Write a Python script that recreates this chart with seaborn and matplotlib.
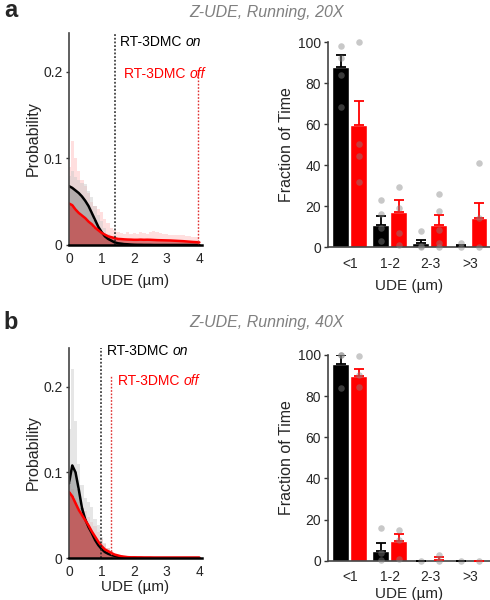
import numpy as np
import pandas as pd
import matplotlib
matplotlib.use("Agg")
import matplotlib.pyplot as plt
import seaborn as sns

# ---- UDE probability distributions (bin centres every 0.1 um, 0..4) ----
ude_um = np.round(np.arange(0, 4.01, 0.1), 1)

a_on_mean = [0.068, 0.066, 0.063, 0.060, 0.056, 0.051, 0.045, 0.037, 0.029, 0.021,
             0.015, 0.010, 0.007, 0.005, 0.003, 0.002, 0.0015, 0.001, 0.0008, 0.0005,
             0.0003, 0.0002, 0.0002, 0.0001, 0.0001, 0.0001, 0, 0, 0, 0,
             0, 0, 0, 0, 0, 0, 0, 0, 0, 0, 0]
a_off_mean = [0.048, 0.046, 0.041, 0.037, 0.034, 0.031, 0.027, 0.024, 0.020, 0.017,
              0.014, 0.012, 0.010, 0.009, 0.008, 0.007, 0.0068, 0.0065, 0.0063, 0.0062,
              0.006, 0.006, 0.0062, 0.006, 0.0061, 0.006, 0.0058, 0.0056, 0.0055, 0.0054,
              0.0053, 0.0052, 0.005, 0.0048, 0.0046, 0.0044, 0.0041, 0.0038, 0.0035, 0.0033, 0.003]
a_on_upper = [0.080, 0.085, 0.078, 0.075, 0.072, 0.070, 0.062, 0.055, 0.045, 0.035,
              0.028, 0.020, 0.013, 0.009, 0.006, 0.004, 0.003, 0.002, 0.001, 0.001,
              0.0008, 0.0005, 0.0004, 0.0003, 0.0002, 0.0002, 0, 0, 0, 0,
              0, 0, 0, 0, 0, 0, 0, 0, 0, 0, 0]
a_off_upper = [0.090, 0.120, 0.100, 0.085, 0.075, 0.068, 0.060, 0.050, 0.045, 0.042,
               0.038, 0.030, 0.025, 0.020, 0.017, 0.015, 0.014, 0.013, 0.015, 0.013,
               0.014, 0.013, 0.015, 0.014, 0.013, 0.015, 0.016, 0.015, 0.014, 0.013,
               0.013, 0.012, 0.012, 0.012, 0.011, 0.011, 0.010, 0.010, 0.009, 0.009, 0.008]

b_on_mean = [0.087, 0.108, 0.100, 0.080, 0.058, 0.045, 0.036, 0.029, 0.021, 0.015,
             0.0105, 0.007, 0.005, 0.0035, 0.0025, 0.0015, 0.001, 0.0006, 0.0004, 0.0002,
             0.0002, 0.0001, 0.0001, 0, 0, 0, 0, 0, 0, 0,
             0, 0, 0, 0, 0, 0, 0, 0, 0, 0, 0]
b_off_mean = [0.077, 0.072, 0.064, 0.056, 0.050, 0.044, 0.038, 0.031, 0.025, 0.019,
              0.014, 0.010, 0.008, 0.0058, 0.004, 0.003, 0.002, 0.0015, 0.001, 0.0008,
              0.0008, 0.0007, 0.0007, 0.0006, 0.0006, 0.0006, 0.0005, 0.0005, 0.0005, 0.0005,
              0.0005, 0.0005, 0.0005, 0.0005, 0.0005, 0.0005, 0.0005, 0.0005, 0.0005, 0.0005, 0.0005]
b_on_upper = [0.150, 0.220, 0.160, 0.110, 0.085, 0.070, 0.065, 0.060, 0.045, 0.038,
              0.025, 0.018, 0.012, 0.008, 0.005, 0.003, 0.002, 0.001, 0.001, 0.001,
              0.001, 0, 0, 0, 0, 0, 0, 0, 0, 0,
              0, 0, 0, 0, 0, 0, 0, 0, 0, 0, 0]
b_off_upper = [0.085, 0.080, 0.070, 0.065, 0.060, 0.055, 0.048, 0.042, 0.037, 0.030,
               0.022, 0.016, 0.012, 0.008, 0.005, 0.004, 0.003, 0.002, 0.0015, 0.0015,
               0.0015, 0.0012, 0.0012, 0.0012, 0.001, 0.001, 0.001, 0.001, 0.001, 0.001,
               0.001, 0.001, 0.001, 0.001, 0.001, 0.001, 0.001, 0.001, 0.001, 0.001, 0.001]

# thresholds (um)
a_thresh_on, a_thresh_off = 1.42, 3.96
b_thresh_on, b_thresh_off = 0.98, 1.30

# ---- fraction of time per UDE bin ----
bins = ["<1", "1-2", "2-3", ">3"]
conds = ["on", "off"]

a_on_frac = [88, 10.9, 1.8, 0.6]
a_on_sem = [5.7, 4.0, 1.8, 0.4]
a_off_frac = [59.6, 17, 10.6, 14.1]
a_off_sem = [11.8, 5.7, 4.8, 7.5]
a_on_pts = [[98, 92, 84, 68.5], [23, 16.2, 9.1, 2.8], [8, 0.6, 0], [1.9, 0]]
a_off_pts = [[100, 50.3, 44.6, 31.5], [29.2, 19, 6.8, 1.1], [25.8, 17.4, 8.4, 1.9, 0], [41.2, 14.1, 0]]

b_on_frac = [95.5, 4.5, 0, 0]
b_on_sem = [4.5, 3.9, 0, 0]
b_off_frac = [89.8, 9.6, 0.5, 0]
b_off_sem = [3.4, 3.4, 1.1, 0]
b_on_pts = [[100, 100, 84], [16, 3.6, 0.3], [0], [0]]
b_off_pts = [[99.5, 90, 84.5], [15, 10, 1], [2.8, 0], [0]]

RED = "#ff0000"
GREY_TXT = "#808080"

sns.set_theme(style="ticks")
plt.rcParams["font.family"] = ["Liberation Sans", "DejaVu Sans"]
plt.rcParams["axes.linewidth"] = 1.2

fig = plt.figure(figsize=(4.9, 6.0), dpi=100)


def dist_panel(ax, on_mean, off_mean, on_up, off_up, t_on, t_off, txt_on, txt_off, xpad):
    ax.fill_between(ude_um, 0, off_up, step="mid", color="#ffb0b0", alpha=0.4, lw=0)
    ax.fill_between(ude_um, 0, on_up, step="mid", color="#c8c8c8", alpha=0.45, lw=0)
    ax.fill_between(ude_um, 0, on_mean, step="mid", color="#8a8a8a", alpha=0.55, lw=0)
    ax.fill_between(ude_um, 0, off_mean, step="mid", color="#c83030", alpha=0.6, lw=0)
    sns.lineplot(x=ude_um, y=on_mean, color="black", lw=1.8, ax=ax)
    sns.lineplot(x=ude_um, y=off_mean, color=RED, lw=1.8, ax=ax)
    ax.axvline(t_on, ymax=1.0, color="#222222", ls=(0, (1.2, 1.2)), lw=1.1)
    ax.axvline(t_off, ymax=txt_off[1] / 0.245 + 0.02, color="#e03030", ls=(0, (1.2, 1.2)), lw=1.0)
    for (x, y), col in [(txt_on, "black"), (txt_off, RED)]:
        t = ax.text(x, y, "RT-3DMC ", color=col, fontsize=10, va="center", ha="left")
        ax.annotate("on" if col == "black" else "off", xy=(1, 0.5), xycoords=t,
                    va="center", ha="left", color=col, fontsize=10, style="italic")
    ax.set_xlim(0, 4.08)
    ax.set_ylim(0, 0.245)
    ax.set_xticks([0, 1, 2, 3, 4])
    ax.set_yticks([0, 0.1, 0.2])
    ax.set_yticklabels(["0", "0.1", "0.2"])
    ax.set_xlabel("UDE (µm)", fontsize=11, labelpad=xpad)
    ax.set_ylabel("Probability", fontsize=11.5, labelpad=2)
    ax.tick_params(axis="both", labelsize=10, length=2.5, width=1, color="#333333", pad=2)
    ax.tick_params(axis="x", length=0, pad=5)
    ax.spines["left"].set_color("#444444")
    ax.spines["bottom"].set_color("black")
    ax.spines["bottom"].set_linewidth(1.8)
    sns.despine(ax=ax)


def frac_panel(ax, on_frac, on_sem, off_frac, off_sem, on_pts, off_pts, xpad):
    df = pd.DataFrame({
        "bin": bins * 2,
        "cond": [conds[0]] * 4 + [conds[1]] * 4,
        "frac": on_frac + off_frac,
    })
    sns.barplot(data=df, x="bin", y="frac", hue="cond", palette=["black", RED],
                saturation=1, width=0.9, gap=0.06, errorbar=None, legend=False,
                ax=ax, zorder=2)
    for cont, sem, pts, col in [(ax.containers[0], on_sem, on_pts, "black"),
                                (ax.containers[1], off_sem, off_pts, RED)]:
        xs = [b.get_x() + b.get_width() / 2 for b in cont]
        hs = [b.get_height() for b in cont]
        ax.errorbar(xs, hs, yerr=[np.zeros(len(sem)), sem], fmt="none", ecolor=col,
                    elinewidth=1.3, capsize=3.5, capthick=1.3, zorder=3)
        for x, p in zip(xs, pts):
            ax.scatter([x] * len(p), p, s=22, color="#858585", alpha=0.45, lw=0,
                       zorder=4, clip_on=False)
    ax.set_xlim(-0.55, 3.5)
    ax.set_ylim(0, 100)
    ax.set_yticks([0, 20, 40, 60, 80, 100])
    ax.set_xlabel("UDE (µm)", fontsize=11, labelpad=xpad)
    ax.set_ylabel("Fraction of Time", fontsize=11.5, labelpad=3)
    ax.tick_params(axis="y", labelsize=10, length=3, width=1, color="#333333", pad=2)
    ax.tick_params(axis="x", labelsize=10, length=0, pad=7)
    ax.spines["left"].set_color("#444444")
    ax.spines["bottom"].set_color("#444444")
    sns.despine(ax=ax)


ax_a1 = fig.add_axes([0.1408, 0.5917, 0.2714, 0.3533])
ax_a2 = fig.add_axes([0.669, 0.5883, 0.331, 0.3417])
ax_b1 = fig.add_axes([0.1408, 0.0700, 0.2714, 0.3500])
ax_b2 = fig.add_axes([0.669, 0.0655, 0.331, 0.3430])

dist_panel(ax_a1, a_on_mean, a_off_mean, a_on_upper, a_off_upper,
           a_thresh_on, a_thresh_off, (1.57, 0.235), (1.69, 0.198), 6)
dist_panel(ax_b1, b_on_mean, b_off_mean, b_on_upper, b_off_upper,
           b_thresh_on, b_thresh_off, (1.17, 0.242), (1.50, 0.207), 1)
frac_panel(ax_a2, a_on_frac, a_on_sem, a_off_frac, a_off_sem, a_on_pts, a_off_pts, 6)
frac_panel(ax_b2, b_on_frac, b_on_sem, b_off_frac, b_off_sem, b_on_pts, b_off_pts, 2)

fig.text(0.543, 0.980, "Z-UDE, Running, 20X", color=GREY_TXT, fontsize=11.5,
         style="italic", ha="center", va="center")
fig.text(0.543, 0.463, "Z-UDE, Running, 40X", color=GREY_TXT, fontsize=11.5,
         style="italic", ha="center", va="center")
fig.text(0.008, 0.982, "a", fontsize=17, fontweight="bold", ha="left", va="center")
fig.text(0.008, 0.462, "b", fontsize=17, fontweight="bold", ha="left", va="center")

fig.savefig("out.png", dpi=100)
plt.close(fig)
